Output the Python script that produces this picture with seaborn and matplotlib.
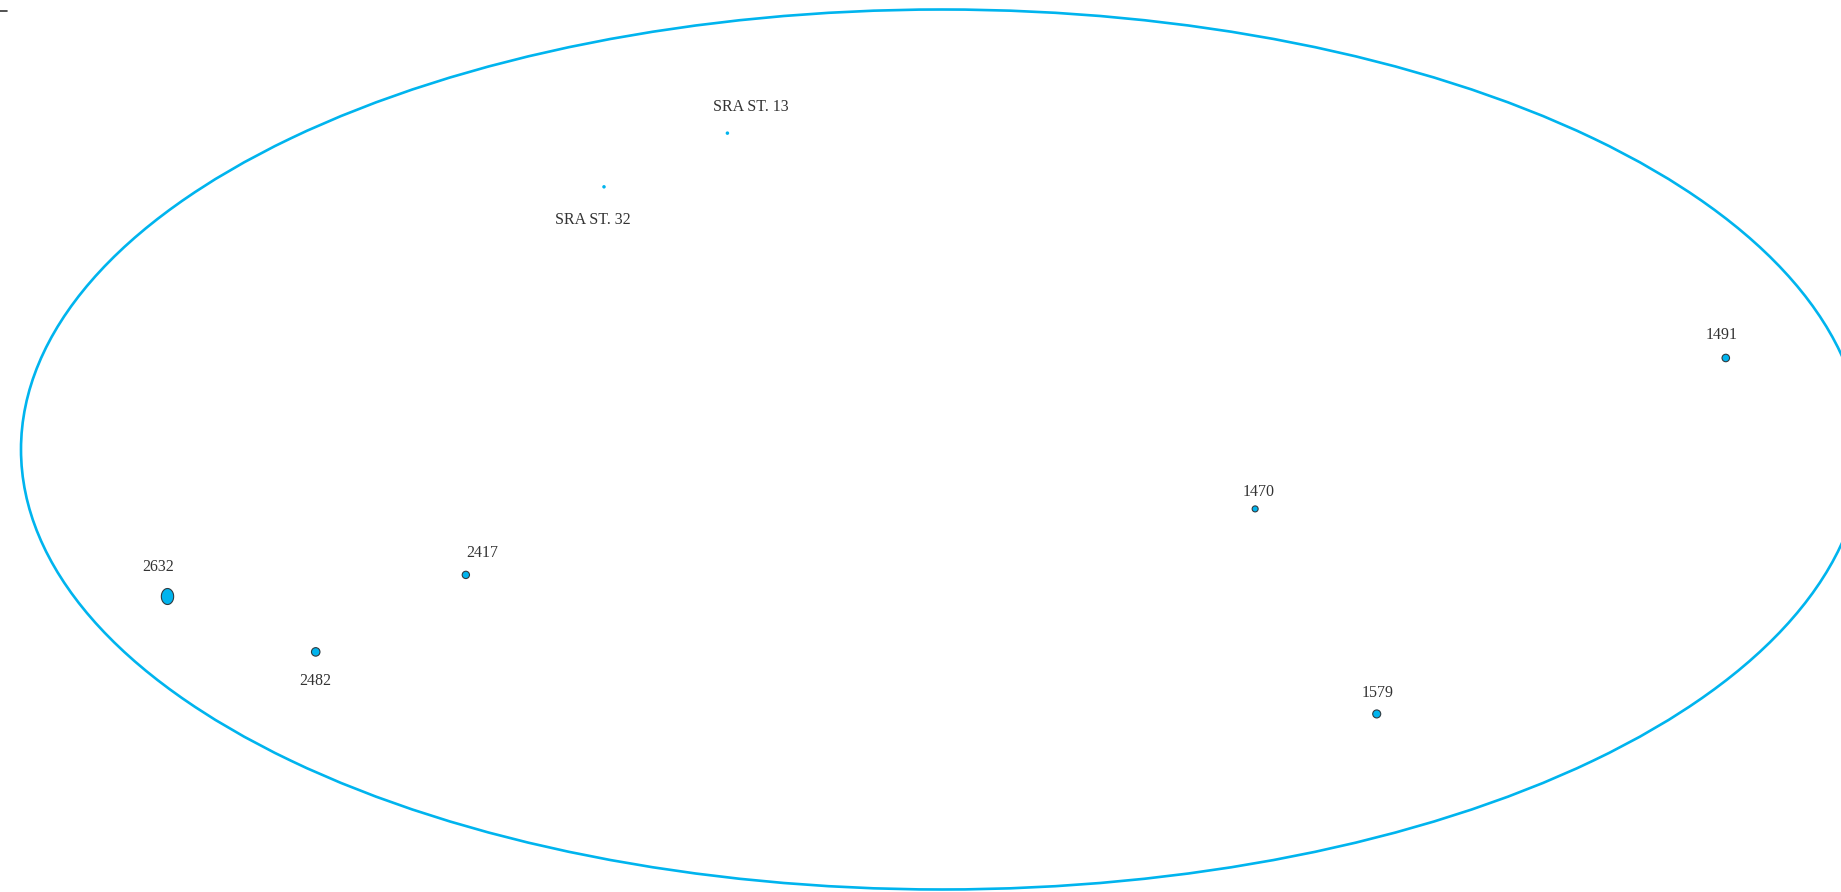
import numpy as np
import pandas as pd
import matplotlib
matplotlib.use("Agg")
import matplotlib.pyplot as plt
from matplotlib.patches import Ellipse
from matplotlib.path import Path
from matplotlib.lines import Line2D
import seaborn as sns

# ---- data ----
stations = ["2632", "2482", "2417", "SRA ST. 13", "SRA ST. 32", "1470", "1579", "1491"]
x_pos = [-0.841, -0.680, -0.517, -0.233, -0.367, 0.340, 0.472, 0.851]
y_pos = [-0.333, -0.460, -0.285, 0.719, 0.597, -0.135, -0.601, 0.208]
weight = [16.0, 8.5, 7.3, 3.5, 3.5, 6.0, 8.0, 7.5]
kind = ["site", "site", "site", "sra", "sra", "site", "site", "site"]

# label offsets in pixels (layout)
label_dx = [-9, 0, 16, 23, -11, 3, 1, -4]
label_dy = [-29, 29, -22, -26, 33, -17, -21, -23]

df = pd.DataFrame({"station": stations, "x": x_pos, "y": y_pos, "w": weight, "kind": kind})

W, H, DPI = 18.41, 8.92, 100
CYAN = "#00B4EE"
EDGE = "#2f3a40"

sns.set_theme(style="white")
plt.rcParams["font.family"] = ["Liberation Serif", "DejaVu Serif"]

fig = plt.figure(figsize=(W, H), dpi=DPI)
ax = fig.add_axes([0, 0, 1, 1])
ax.set_xlim(-1.0228, 0.9761)
ax.set_ylim(-1.0057, 1.0216)
ax.axis("off")

# outline ellipse
ax.add_patch(Ellipse((0, 0), 2, 2, fill=False, edgecolor=CYAN, linewidth=1.9, zorder=1))

def px_to_s(d):
    return (d * 72.0 / DPI) ** 2

# elliptical marker path (taller than wide)
t = np.linspace(0, 2 * np.pi, 60)
ell_path = Path(np.column_stack([0.385 * np.cos(t), 0.5 * np.sin(t)]), closed=True)

sites = df[df.kind == "site"]
big = sites[sites.w >= 12]
small = sites[sites.w < 12]
sras = df[df.kind == "sra"]

sns.scatterplot(data=small, x="x", y="y", ax=ax, s=[px_to_s(v) for v in small.w],
                color=CYAN, edgecolor=EDGE, linewidth=0.8, legend=False, zorder=3)
sns.scatterplot(data=big, x="x", y="y", ax=ax, s=[px_to_s(v) for v in big.w],
                marker=ell_path, color=CYAN, edgecolor=EDGE, linewidth=0.8, legend=False, zorder=3)
sns.scatterplot(data=sras, x="x", y="y", ax=ax, s=[px_to_s(v) for v in sras.w],
                color=CYAN, linewidth=0, legend=False, zorder=3)

for i, row in df.iterrows():
    ax.annotate(row.station, (row.x, row.y),
                xytext=(label_dx[i] * 72 / DPI, -label_dy[i] * 72 / DPI),
                textcoords="offset points", ha="center", va="center",
                fontsize=11.5, color="#333333", zorder=4)

# small mark in top-left corner
fig.add_artist(Line2D([0, 7 / 1841], [1 - 11 / 892, 1 - 11 / 892],
                      transform=fig.transFigure, color="#333333", linewidth=1.2))

ax.set_xlabel("")
ax.set_ylabel("")
fig.savefig("out.png", dpi=DPI, facecolor="white")
